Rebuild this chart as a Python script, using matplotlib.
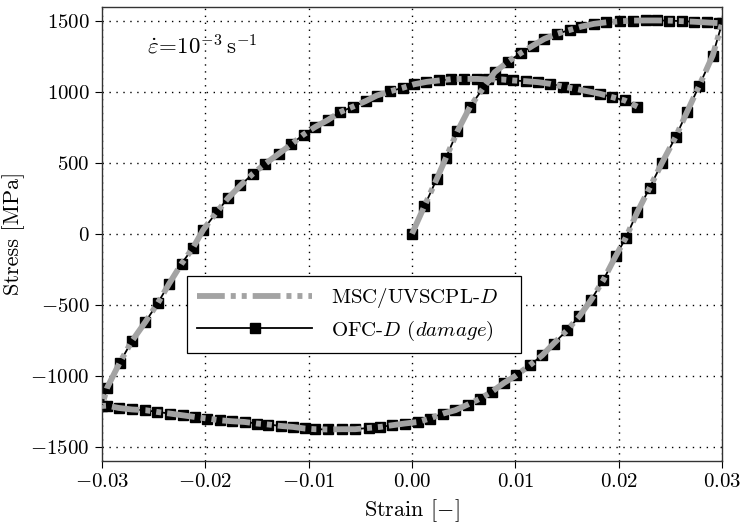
import numpy as np
import matplotlib
matplotlib.use("Agg")
import matplotlib.pyplot as plt

plt.rcParams['font.family'] = 'serif'
plt.rcParams['font.serif'] = ['cmr10']
plt.rcParams['mathtext.fontset'] = 'cm'
plt.rcParams['axes.formatter.use_mathtext'] = True
plt.rcParams['lines.scale_dashes'] = False

# Branch 1: initial loading 0 -> 0.03
strain_load = [0, 0.0012, 0.0024, 0.0033, 0.0044, 0.0056, 0.0069, 0.0080, 0.0093, 0.0105,
               0.0117, 0.0128, 0.0140, 0.0153, 0.0164, 0.0176, 0.0188, 0.0201, 0.0214, 0.0226,
               0.0237, 0.0249, 0.0261, 0.0273, 0.0285, 0.0297, 0.0300]
stress_load = [0, 194, 387, 537, 723, 892, 1028, 1138, 1213, 1272,
               1326, 1373, 1408, 1437, 1460, 1479, 1490, 1497, 1502, 1503,
               1503, 1502, 1498, 1494, 1489, 1484, 1482]

# Branch 2: unloading 0.03 -> -0.03
strain_unload = [0.0291, 0.0278, 0.0266, 0.0255, 0.0242, 0.0230, 0.0218, 0.0207, 0.0197, 0.0185,
                 0.0173, 0.0162, 0.0150, 0.0137, 0.0126, 0.0114, 0.0101, 0.0089, 0.0077, 0.0066,
                 0.0054, 0.0042, 0.0030, 0.0017, 0.0006, -0.0007, -0.0019, -0.0031, -0.0042, -0.0055,
                 -0.0068, -0.0081, -0.0094, -0.0104, -0.0115, -0.0127, -0.0139, -0.0150, -0.0162, -0.0174,
                 -0.0186, -0.0198, -0.0210, -0.0222, -0.0234, -0.0247, -0.0258, -0.0271, -0.0284, -0.0295,
                 -0.0300]
stress_unload = [1256, 1044, 856, 680, 500, 324, 152, -28, -160, -329,
                 -470, -582, -681, -775, -857, -927, -998, -1052, -1115, -1162,
                 -1204, -1244, -1268, -1303, -1327, -1338, -1350, -1362, -1369, -1378,
                 -1378, -1380, -1378, -1373, -1362, -1355, -1345, -1338, -1327, -1322,
                 -1315, -1303, -1292, -1280, -1268, -1256, -1244, -1239, -1228, -1212,
                 -1214]

# Branch 3: reloading -0.03 -> 0.0218
strain_reload = [-0.0295, -0.0283, -0.0271, -0.0258, -0.0246, -0.0235, -0.0223, -0.0212, -0.0202, -0.0189,
                 -0.0178, -0.0166, -0.0154, -0.0142, -0.0129, -0.0117, -0.0105, -0.0094, -0.0081, -0.0070,
                 -0.0057, -0.0045, -0.0034, -0.0021, -0.0009, 0.0002, 0.0014, 0.0026, 0.0038, 0.0050,
                 0.0063, 0.0074, 0.0087, 0.0098, 0.0110, 0.0122, 0.0134, 0.0146, 0.0158, 0.0170,
                 0.0182, 0.0194, 0.0206, 0.0218]
stress_reload = [-1085, -911, -756, -622, -489, -352, -211, -100, 28, 152,
                 251, 340, 423, 493, 563, 629, 699, 751, 803, 856,
                 896, 934, 974, 1004, 1028, 1053, 1070, 1080, 1089, 1091,
                 1091, 1087, 1087, 1080, 1075, 1068, 1056, 1037, 1021, 1004,
                 986, 962, 939, 896]

x_ticks = [-0.03, -0.02, -0.01, 0.00, 0.01, 0.02, 0.03]
x_ticklabels = ['$-0.03$', '$-0.02$', '$-0.01$', '$0.00$', '$0.01$', '$0.02$', '$0.03$']
y_ticks = [-1500, -1000, -500, 0, 500, 1000, 1500]
y_ticklabels = ['$-1500$', '$-1000$', '$-500$', '$0$', '$500$', '$1000$', '$1500$']

strain = np.concatenate([strain_load, strain_unload, strain_reload])
stress = np.concatenate([stress_load, stress_unload, stress_reload])

fig = plt.figure(figsize=(7.42, 5.30), dpi=100)
ax = fig.add_axes([102/742, 1 - 460.7/530, 620/742, 454/530])

ax.plot(strain, stress, color='black', lw=1.3, marker='s', markersize=6.5,
        markerfacecolor='black', markeredgecolor='black', zorder=2,
        label='OFC-$D$ $(\\mathit{damage})$')
ax.plot(strain, stress, color='#a3a3a3', lw=4.2, dashes=[20, 4.3, 3.6, 4.3, 3.6, 4.3],
        zorder=3, label='MSC/UVSCPL-$D$')

ax.set_xlim(-0.03, 0.03)
ax.set_ylim(-1600, 1600)
ax.set_xticks(x_ticks)
ax.set_xticklabels(x_ticklabels)
ax.set_yticks(y_ticks)
ax.set_yticklabels(y_ticklabels)
ax.tick_params(direction='out', length=5, width=0.8, labelsize=15, colors='black', pad=4)
ax.grid(True, color='black', linestyle=(0, (1, 4)), linewidth=1.0)
ax.set_axisbelow(True)
for s in ax.spines.values():
    s.set_color('#333333')
    s.set_linewidth(1.0)

ax.set_xlabel('Strain [$-$]', fontsize=16, labelpad=4)
ax.set_ylabel('Stress [MPa]', fontsize=16, labelpad=4)

ax.text(-0.0256, 1326, r'$\dot{\boldsymbol{\varepsilon}}\!=\!10^{-3}\,\mathrm{s}^{-1}$',
        fontsize=16.5, va='center', ha='left')

h, l = ax.get_legend_handles_labels()
leg = ax.legend([h[1], h[0]], [l[1], l[0]], loc='lower left',
                bbox_to_anchor=(0.137, 0.237, 0.539, 0.159), mode='expand',
                borderaxespad=0.0,
                fontsize=15, handlelength=5.5, fancybox=False, framealpha=1,
                edgecolor='black', borderpad=0.5, labelspacing=0.4, handletextpad=0.9)
leg.get_frame().set_linewidth(0.9)

fig.savefig('out.png', dpi=100)
